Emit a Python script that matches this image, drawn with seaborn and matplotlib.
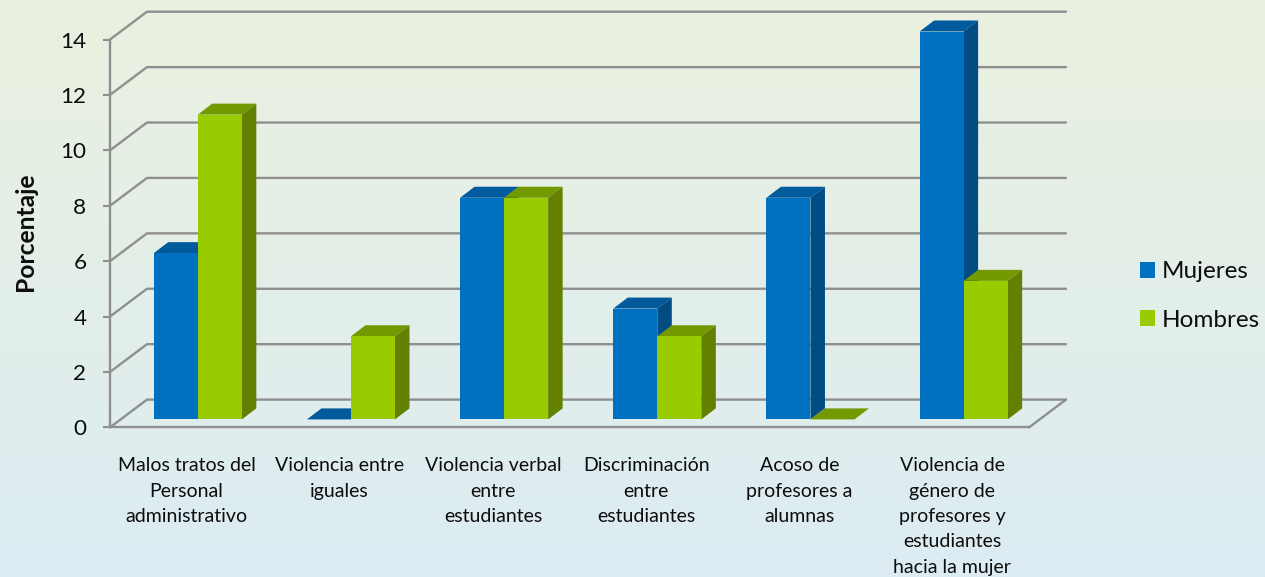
import numpy as np
import pandas as pd
import matplotlib
matplotlib.use("Agg")
import matplotlib.pyplot as plt
from matplotlib.patches import Polygon
import seaborn as sns

# --- data ---
categorias = [
    "Malos tratos del\nPersonal\nadministrativo",
    "Violencia entre\niguales",
    "Violencia verbal\nentre\nestudiantes",
    "Discriminación\nentre\nestudiantes",
    "Acoso de\nprofesores a\nalumnas",
    "Violencia de\ngénero de\nprofesores y\nestudiantes\nhacia la mujer",
]
mujeres = [6, 0, 8, 4, 8, 14]
hombres = [11, 3, 8, 3, 0, 5]
y_ticks = [0, 2, 4, 6, 8, 10, 12, 14]

W, H = 1265, 577
GRID = "#8f8f8f"
TXT = "#0d0d0d"
# front face, top face, side face
COLORES = {
    "Mujeres": ("#0070c0", "#005a9c", "#004c83"),
    "Hombres": ("#99cc00", "#739900", "#648000"),
}

sns.set_theme(style="white")
plt.rcParams["font.family"] = ["Lato", "DejaVu Sans"]

df = pd.DataFrame({
    "categoria": categorias * 2,
    "valor": mujeres + hombres,
    "sexo": ["Mujeres"] * len(mujeres) + ["Hombres"] * len(hombres),
})

fig = plt.figure(figsize=(W / 100, H / 100), dpi=100)

# background gradient
bg = fig.add_axes([0, 0, 1, 1], zorder=-1)
stops = np.array([[234, 241, 223], [220, 236, 243]]) / 255
grad = np.linspace(0, 1, 256)[:, None, None]
bg.imshow(stops[0] + grad * (stops[1] - stops[0]), aspect="auto")
bg.axis("off")

# front plane of the 3D box, in pixels from the reference
left, right, top, bottom = 110, 1029, 39.5, 427.4
ax = fig.add_axes([left / W, 1 - bottom / H, (right - left) / W, (bottom - top) / H])
ax.patch.set_alpha(0)

sns.barplot(data=df, x="categoria", y="valor", hue="sexo", palette={k: v[0] for k, v in COLORES.items()},
            width=0.575, gap=0, saturation=1, ax=ax, legend=False, zorder=5, edgecolor="none", linewidth=0)
ax.set_xlim(-0.5, 5.5)
ax.set_ylim(0, 14)

px_x = (right - left) / 6
px_y = (bottom - top) / 14

# walls and floor
wall_dx, wall_dy = 37 / px_x, 27.8 / px_y
for v in y_ticks:
    ax.plot([-0.5, -0.5 + wall_dx, 5.5 + wall_dx], [v, v + wall_dy, v + wall_dy],
            color=GRID, lw=1.7, clip_on=False, zorder=1, solid_joinstyle="miter")
ax.plot([5.5, 5.5 + wall_dx], [0, wall_dy], color=GRID, lw=1.7, clip_on=False, zorder=1)

# move the bars into the box and give them depth
shift_x, shift_y = 11.2 / px_x, 8 / px_y
depth_x, depth_y = 14.5 / px_x, 11 / px_y
for n, (sexo, cont) in enumerate(zip(COLORES, ax.containers)):
    _, c_top, c_side = COLORES[sexo]
    z = 2 + 2 * n
    for bar in cont:
        bar.set_x(bar.get_x() + shift_x)
        bar.set_y(shift_y)
        bar.set_zorder(z + 1)
        bar.set_clip_on(False)
        x0, x1 = bar.get_x(), bar.get_x() + bar.get_width()
        y0, y1 = shift_y, shift_y + bar.get_height()
        ax.add_patch(Polygon([(x0, y1), (x1, y1), (x1 + depth_x, y1 + depth_y), (x0 + depth_x, y1 + depth_y)],
                             fc=c_top, ec="none", clip_on=False, zorder=z))
        if y1 > y0:
            ax.add_patch(Polygon([(x1, y0), (x1 + depth_x, y0 + depth_y), (x1 + depth_x, y1 + depth_y), (x1, y1)],
                                 fc=c_side, ec="none", clip_on=False, zorder=z))

# axes
sns.despine(ax=ax)
for s in ["left", "bottom"]:
    ax.spines[s].set_color(GRID)
    ax.spines[s].set_linewidth(1.7)
ax.set_yticks(y_ticks)
ax.tick_params(axis="y", left=True, length=5, width=1.5, color=GRID, pad=12, labelsize=16.2, labelcolor=TXT)
ax.tick_params(axis="x", bottom=False, pad=15.5, labelsize=14, labelcolor=TXT)
for lab in ax.get_xticklabels():
    lab.set_linespacing(1.6)
ax.set_xlabel("")
ax.set_ylabel("Porcentaje", fontsize=17.7, fontweight="bold", color=TXT, labelpad=16.5, y=0.505)

# legend
handles = [plt.Rectangle((0, 0), 1, 1, fc=v[0], ec="none") for v in COLORES.values()]
fig.legend(handles, list(COLORES), loc="center left", bbox_to_anchor=(1140 / W, 1 - 296 / H), frameon=False,
           fontsize=17.5, handlelength=0.62, handleheight=0.62, handletextpad=0.29, labelspacing=1.12, labelcolor=TXT,
           borderpad=0, borderaxespad=0)

fig.savefig("out.png", dpi=100)
